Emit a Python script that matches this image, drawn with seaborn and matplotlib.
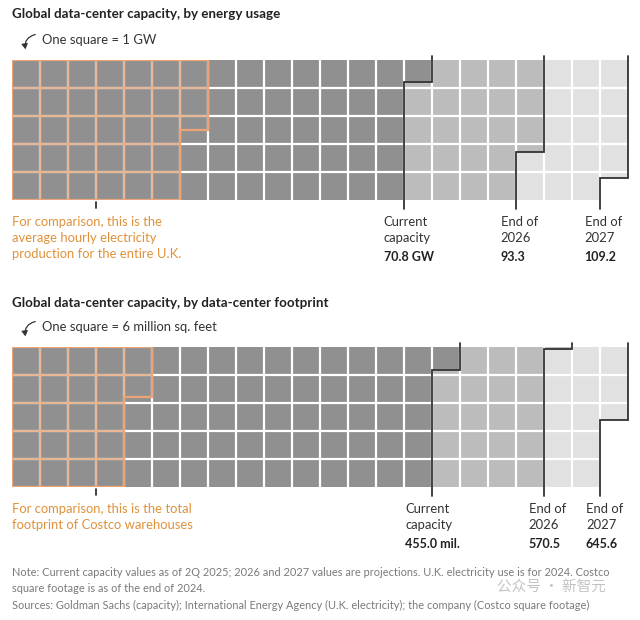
import matplotlib
matplotlib.use('Agg')
import matplotlib.pyplot as plt
import seaborn as sns
import numpy as np
from matplotlib.patches import Polygon, FancyArrowPatch

# data
energy_labels = ['Current\ncapacity', 'End of\n2026', 'End of\n2027']
energy_values = [70.8, 93.3, 109.2]          # GW, one square = 1 GW
energy_value_text = ['70.8 GW', '93.3', '109.2']
uk_squares = 32.5                             # avg hourly UK electricity production

footprint_labels = ['Current\ncapacity', 'End of\n2026', 'End of\n2027']
footprint_values = [455.0, 570.5, 645.6]      # million sq. ft, one square = 6 mil.
footprint_value_text = ['455.0 mil.', '570.5', '645.6']
costco_value = 130.8                          # Costco warehouses footprint, mil. sq. ft

fills = ['#909090', '#bcbcbc', '#e1e1e1']
orange = '#e0913a'
orange_line = '#eba477'
orange_grid = '#e8b08a'
dark = '#333333'

W, H = 640, 620
ROWS, COLS = 5, 22
LABEL_FS = 9.4

sns.set_theme(style='white')
plt.rcParams['font.family'] = ['Lato', 'DejaVu Sans']

fig = plt.figure(figsize=(W / 100, H / 100), dpi=100)
fig.patch.set_facecolor('white')


def ftext(x, y, s, **kw):
    fig.text(x / W, 1 - y / H, s, va='center', ha='left', **kw)


def step_path(v):
    c0 = int(v // ROWS)
    f = v - c0 * ROWS
    return c0, f


def waffle(top, squares, comp, labels, value_text, label_dx, comp_text):
    ax = fig.add_axes([12 / W, 1 - (top + ROWS * 28) / H, COLS * 28 / W, ROWS * 28 / H])
    ax.set_xlim(0, COLS)
    ax.set_ylim(ROWS, 0)
    ax.axis('off')

    # stacked column fills, column by column, top to bottom
    bounds = [0] + list(squares)
    cols = np.arange(COLS)
    for i in range(len(squares)):
        lo = np.clip(bounds[i] - cols * ROWS, 0, ROWS)
        hi = np.clip(bounds[i + 1] - cols * ROWS, 0, ROWS)
        ax.bar(cols + 0.5, hi - lo, bottom=lo, width=1.0, color=fills[i], linewidth=0)

    # grid
    for x in range(1, COLS):
        ax.plot([x, x], [0, ROWS], color='white', lw=1.6, solid_capstyle='butt')
    for y in range(1, ROWS):
        ax.plot([0, COLS], [y, y], color='white', lw=1.6, solid_capstyle='butt')

    # comparison outline
    c0, f = step_path(comp)
    poly = Polygon([(0, 0), (c0 + 1, 0), (c0 + 1, f), (c0, f), (c0, ROWS), (0, ROWS)],
                   closed=True, fill=False, edgecolor=orange_line, lw=1.6, zorder=4)
    ax.add_patch(poly)
    clip = Polygon(poly.get_xy(), closed=True, transform=ax.transData)
    for x in range(1, COLS):
        ln, = ax.plot([x, x], [0, ROWS], color=orange_grid, lw=1.3, zorder=3)
        ln.set_clip_path(clip)
    for y in range(1, ROWS):
        ln, = ax.plot([0, COLS], [y, y], color=orange_grid, lw=1.3, zorder=3)
        ln.set_clip_path(clip)
    ax.plot([3, 3], [ROWS + 0.08, ROWS + 0.3], color=dark, lw=1.3, clip_on=False)
    for j, line in enumerate(comp_text.split('\n')):
        ax.text(0, ROWS + 0.79 + j * 0.57, line, color=orange, fontsize=LABEL_FS,
                va='center')

    # boundary steps and labels
    for i, v in enumerate(squares):
        c0, f = step_path(v)
        ax.plot([c0 + 1, c0 + 1, c0, c0], [-0.15, f, f, ROWS + 0.32], color=dark,
                lw=1.3, clip_on=False, zorder=5, solid_joinstyle='miter')
        first, second = labels[i].split('\n')
        ax.text(c0 - label_dx[i], ROWS + 0.79, first, color=dark, fontsize=LABEL_FS,
                va='center')
        ax.text(c0 - label_dx[i], ROWS + 1.36, second, color=dark, fontsize=LABEL_FS,
                va='center')
        ax.text(c0 - label_dx[i], ROWS + 2.04, value_text[i], color='#222222',
                fontsize=9, fontweight='bold', va='center')
    return ax


def arrow(y):
    fig.add_artist(FancyArrowPatch(
        (38 / W, 1 - (y - 6) / H), (26 / W, 1 - (y + 12) / H), transform=fig.transFigure,
        connectionstyle='arc3,rad=0.55', arrowstyle='-|>,head_length=3,head_width=1.8',
        color='#333333', lw=0.9))


# panel 1
ftext(12, 14, 'Global data-center capacity, by energy usage', fontsize=9.6,
      fontweight='bold', color='#222222')
ftext(42, 40, 'One square = 1 GW', fontsize=9.4, color='#333333')
arrow(40)
waffle(60, energy_values, uk_squares, energy_labels, energy_value_text,
       [0.72, 0.55, 0.55],
       'For comparison, this is the\naverage hourly electricity\nproduction for the entire U.K.')

# panel 2
ftext(12, 303, 'Global data-center capacity, by data-center footprint', fontsize=9.6,
      fontweight='bold', color='#222222')
ftext(42, 327, 'One square = 6 million sq. feet', fontsize=9.4, color='#333333')
arrow(327)
waffle(347, [v / 6 for v in footprint_values], costco_value / 6, footprint_labels,
       footprint_value_text, [0.95, 0.55, 0.5],
       'For comparison, this is the total\nfootprint of Costco warehouses')

# notes
note_color = '#7a7a7a'
NOTE_FS = 7.9
ftext(12, 573, 'Note: Current capacity values as of 2Q 2025; 2026 and 2027 values are '
      'projections. U.K. electricity use is for 2024. Costco', fontsize=NOTE_FS, color=note_color)
ftext(12, 589, 'square footage is as of the end of 2024.', fontsize=NOTE_FS, color=note_color)
ftext(12, 605, 'Sources: Goldman Sachs (capacity); International Energy Agency (U.K. '
      'electricity); the company (Costco square footage)', fontsize=NOTE_FS, color=note_color)
fig.text(497 / W, 1 - 587 / H, '公众号 · 新智元', fontsize=10.5, color='#b5b5b5', alpha=0.8,
         va='center', family=['Noto Sans CJK SC', 'DejaVu Sans'])

fig.savefig('out.png', dpi=100, facecolor='white')
